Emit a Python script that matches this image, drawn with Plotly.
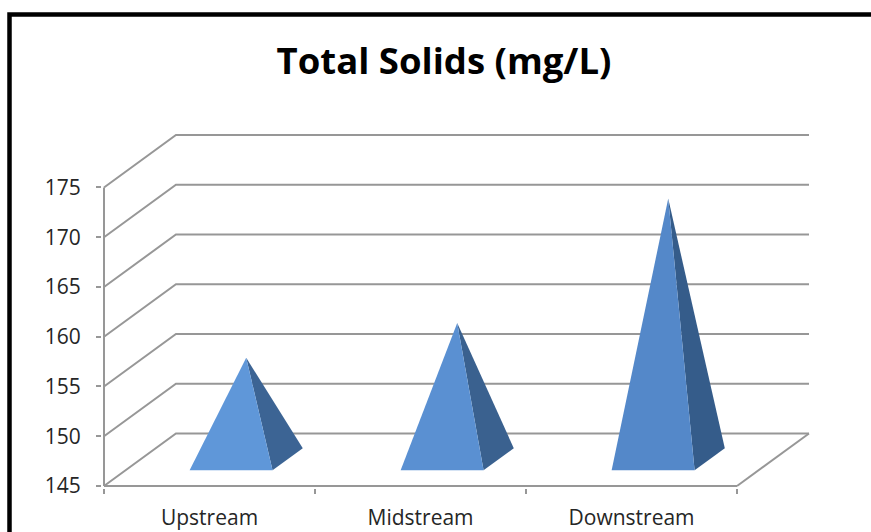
import plotly.graph_objects as go

categories = ["Upstream", "Midstream", "Downstream"]
total_solids = [155.2, 158.7, 171.2]
y_ticks = [145, 150, 155, 160, 165, 170, 175]
front_colors = ["#5f97d9", "#5a90d2", "#5488c9"]
side_colors = ["#3c6494", "#3a618f", "#355c8a"]

GRID = "#979797"
TEXT = "#262626"
FONT = "Open Sans, sans-serif"

# oblique projection of the 3-D box, in axis units
DEPTH_X = 0.341
DEPTH_Y = 5.27
BAR_WIDTH = 0.393
BAR_FRONT = 0.30
BAR_BACK = 0.72
# a little room round the box so its edge lines are not clipped
PAD_X = 0.0095
PAD_Y = 0.2
y_min, y_max = y_ticks[0], y_ticks[-1]
n = len(categories)


def project(x, y, depth):
    return x + depth * DEPTH_X, y + depth * DEPTH_Y


fig = go.Figure()

# back wall and side wall gridlines
grid_x, grid_y = [], []
for tick in y_ticks:
    bx, by = project(0, tick, 1)
    grid_x += [0, bx, bx + n, None]
    grid_y += [tick, by, by, None]
# floor edges
fx, fy = project(n, y_min, 1)
grid_x += [n, fx, None, 0, n, None, 0, 0]
grid_y += [y_min, fy, None, y_min, y_min, None, y_min, y_max]
fig.add_trace(go.Scatter(
    x=grid_x, y=grid_y, mode="lines",
    line=dict(color=GRID, width=2), hoverinfo="skip",
))

for i, value in enumerate(total_solids):
    left = i + 0.5 - BAR_WIDTH / 2
    right = i + 0.5 + BAR_WIDTH / 2
    p1 = project(left, y_min, BAR_FRONT)
    p2 = project(right, y_min, BAR_FRONT)
    p3 = project(right, y_min, BAR_BACK)
    apex = project(i + 0.5, value, (BAR_FRONT + BAR_BACK) / 2)
    fig.add_trace(go.Scatter(
        x=[p2[0], p3[0], apex[0], p2[0]], y=[p2[1], p3[1], apex[1], p2[1]],
        mode="lines", fill="toself", fillcolor=side_colors[i],
        line=dict(width=0), name=categories[i],
    ))
    fig.add_trace(go.Scatter(
        x=[p1[0], p2[0], apex[0], p1[0]], y=[p1[1], p2[1], apex[1], p1[1]],
        mode="lines", fill="toself", fillcolor=front_colors[i],
        line=dict(width=0), name=categories[i],
    ))

fig.update_layout(
    width=871, height=532,
    margin=dict(l=102, r=60, t=133, b=44, autoexpand=False),
    paper_bgcolor="white", plot_bgcolor="white",
    showlegend=False,
    font=dict(family=FONT, size=21, color=TEXT),
    title=dict(
        text="<b>Total Solids (mg/L)</b>",
        font=dict(family=FONT, size=36.5, color="black"),
        x=444 / 871, xanchor="center", y=1 - 61 / 532, yanchor="middle",
    ),
    shapes=[dict(
        type="rect", xref="paper", yref="paper", layer="below",
        x0=(9.5 - 102) / 709, x1=1.2, y0=-0.5, y1=(532 - 14.5 - 44) / 355,
        line=dict(color="black", width=4.5),
    )],
)
fig.update_xaxes(
    range=[-PAD_X, n + DEPTH_X + PAD_X], showgrid=False, zeroline=False, showline=False,
    tickvals=[i + 0.5 for i in range(n)], ticktext=categories,
    ticks="", ticklabelstandoff=15, automargin=False,
    minor=dict(tickvals=list(range(n + 1)), ticks="outside", ticklen=5, tickwidth=2, tickcolor=GRID),
)
fig.update_yaxes(
    range=[y_min - PAD_Y, y_max + DEPTH_Y + PAD_Y], showgrid=False, zeroline=False, showline=False,
    tickvals=y_ticks, ticks="outside", ticklen=5, tickwidth=2, tickcolor=GRID,
    ticklabelstandoff=11, automargin=False,
)

fig.write_html(
    "out.html",
    config=dict(displayModeBar=False),
    post_script="document.body.style.margin='0';document.body.style.overflow='hidden';",
)
